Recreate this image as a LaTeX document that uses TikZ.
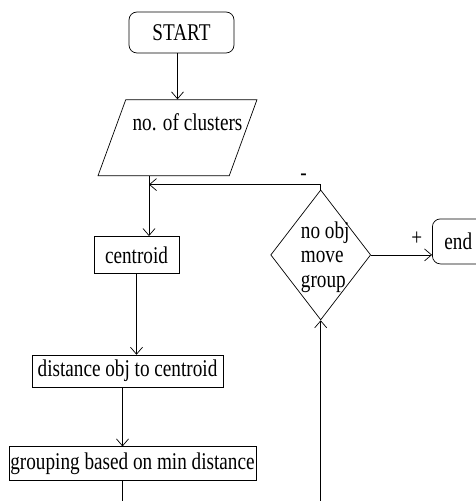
\documentclass[tikz,border=0pt]{standalone}
\usepackage{fontspec}
\setmainfont[FakeStretch=0.8]{Liberation Serif}
\usetikzlibrary{shapes.geometric, arrows.meta, positioning, calc}

\begin{document}
\begin{tikzpicture}[x=1pt, y=1pt, line width=0.7pt,
    font=\fontsize{24}{24.5}\selectfont,
    >={Straight Barb[length=7pt, width=12pt]},
    box/.style={draw, rectangle, inner sep=1pt},
    term/.style={draw, rectangle, rounded corners=8pt, inner sep=2pt},
    io/.style={draw, trapezium, trapezium left angle=75, trapezium right angle=105, trapezium stretches=true, inner sep=2pt},
    decision/.style={draw, diamond, inner sep=0pt}]
    \useasboundingbox (0,0) rectangle (476,501);

    % Steps
    \node[term, minimum width=105pt, minimum height=41pt] (start) at (181.5,468.5) {START};
    \node[io, minimum width=159pt, minimum height=76pt, below=46pt of start, xshift=-4pt] (para) {};
    \node[anchor=base, inner sep=0pt] (paratext) at ($(para)+(10,7)$) {no. of clusters};
    \node[box, minimum width=85pt, minimum height=37pt, below=60pt of para, xshift=-41pt] (cent) {centroid};
    \node[box, minimum width=191pt, minimum height=32pt, below=81pt of cent, xshift=-9pt] (dist) {distance obj to centroid};
    \node[box, inner xsep=0pt, minimum width=247pt, minimum height=34pt, below=59pt of dist, xshift=5pt] (group) {grouping based on min distance};
    \node[decision, minimum width=100pt, minimum height=130pt, right=91pt of cent] (dec) {};
    \node[align=left, inner sep=0pt] (dectext) at ($(dec)+(4.5,-2)$) {no obj\\move\\group};
    \node[term, text width=40pt, align=left, inner xsep=12pt, minimum height=45pt, right=61pt of dec, yshift=13.5pt] (fin) {end};

    % Points
    \coordinate (join) at ($(cent.north)+(12.5,51.5)$);
    \coordinate (out) at (122.5,0);
    \coordinate (back) at (dec.south |- out);

    % Flow
    \draw[->] (para.north |- start.south) -- (para.north);
    \draw[->] (join |- para.south) -- (join |- cent.north);
    \draw[->] (cent.south) -- (cent.south |- dist.north);
    \draw[->] (out |- dist.south) -- (out |- group.north);
    \draw (out |- group.south) -- (out);
    \draw[->] (back) -- (dec.south);
    \draw[->] (dec.north) |- node[pos=0.55, above=4pt, inner sep=0pt] {-} (join);
    \draw[->] (dec.east) -- node[pos=0.75, above=9pt, inner sep=0pt] {+} (dec.east -| fin.west);
\end{tikzpicture}
\end{document}
